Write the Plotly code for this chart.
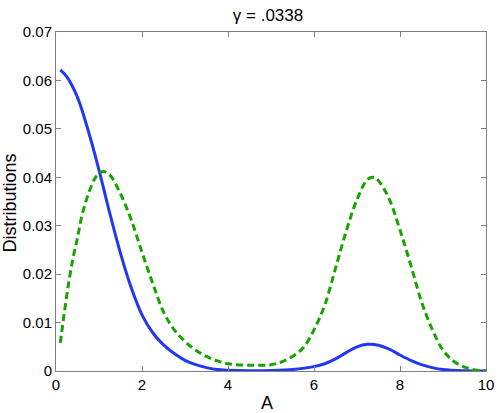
import plotly.graph_objects as go

# Blue solid distribution
blue_x = [0.1, 0.25, 0.5, 0.75, 1.0, 1.25, 1.5, 1.75, 2.0, 2.25, 2.5, 2.75, 3.0, 3.25, 3.5, 3.75,
          4.0, 4.5, 5.0, 5.5, 6.0, 6.25, 6.5, 6.75, 7.0, 7.25, 7.5, 7.75, 8.0, 8.25, 8.5, 8.75,
          9.0, 9.5, 10.0]
blue_y = [0.0622, 0.0608, 0.0565, 0.0496, 0.0415, 0.0326, 0.0243, 0.0172, 0.0116, 0.0079, 0.0054,
          0.0036, 0.0022, 0.0013, 0.0007, 0.0003, 0.00015, 0.00005, 0.0001, 0.0003, 0.0009, 0.0015,
          0.0025, 0.0038, 0.0050, 0.0055, 0.0053, 0.0045, 0.0033, 0.0022, 0.0013, 0.0007, 0.0003,
          0.00005, 0.0]

# Green dashed distribution
green_x = [0.1, 0.2, 0.3, 0.4, 0.5, 0.6, 0.75, 0.9, 1.0, 1.1, 1.25, 1.5, 1.75, 2.0, 2.25, 2.5,
           2.75, 3.0, 3.25, 3.5, 3.75, 4.0, 4.5, 5.0, 5.25, 5.5, 5.75, 6.0, 6.25, 6.5, 6.75, 7.0,
           7.25, 7.4, 7.5, 7.75, 8.0, 8.25, 8.5, 8.75, 9.0, 9.25, 9.5, 9.75, 10.0]
green_y = [0.0058, 0.0125, 0.0185, 0.0235, 0.0275, 0.0320, 0.0365, 0.0397, 0.0408, 0.0412, 0.0405,
           0.0366, 0.0312, 0.0245, 0.0181, 0.0122, 0.0085, 0.0061, 0.0043, 0.0030, 0.0021, 0.0015,
           0.0012, 0.0013, 0.0019, 0.0030, 0.0048, 0.0085, 0.0136, 0.0212, 0.0289, 0.0354, 0.0396,
           0.0400, 0.0393, 0.0355, 0.0291, 0.0219, 0.0143, 0.0086, 0.0043, 0.0020, 0.0008, 0.0002,
           0.0000]

x_ticks = [0, 2, 4, 6, 8, 10]
y_ticks = [0, 0.01, 0.02, 0.03, 0.04, 0.05, 0.06, 0.07]
y_tick_labels = ["0", "0.01", "0.02", "0.03", "0.04", "0.05", "0.06", "0.07"]
title_text = "γ = .0338"
x_label = "A"
y_label = "Distributions"

fig = go.Figure()
fig.add_trace(go.Scatter(x=blue_x, y=blue_y, mode="lines", line_shape="spline",
                         line=dict(color="#2338f5", width=3), showlegend=False))
fig.add_trace(go.Scatter(x=green_x, y=green_y, mode="lines", line_shape="spline",
                         line=dict(color="#17a300", width=3, dash="7px,4px"), showlegend=False))

fam = "Liberation Sans, Arial, sans-serif"
tick_font = dict(family=fam, size=15, color="black")
label_font = dict(family=fam, size=18, color="black")
title_font = dict(family=fam, size=17, color="black")
axis_common = dict(showline=True, linecolor="#7f7f7f", linewidth=1, mirror="ticks",
                   ticks="inside", ticklen=5, tickcolor="#7f7f7f", showgrid=False,
                   zeroline=False, tickfont=tick_font, automargin=False)

W, H = 498, 413
fig.update_layout(
    width=W, height=H,
    margin=dict(l=56, r=12, t=32, b=42),
    plot_bgcolor="white", paper_bgcolor="white",
    font=tick_font,
    title=dict(text=title_text, x=268 / W, xanchor="center", y=1 - 15 / H, yanchor="middle",
               yref="container", xref="container", font=title_font),
    xaxis=dict(range=[0, 10], tickvals=x_ticks, ticklabelstandoff=0, **axis_common),
    yaxis=dict(range=[0, 0.07], tickvals=y_ticks, ticktext=y_tick_labels, **axis_common),
    annotations=[
        dict(text=x_label, xref="paper", yref="paper", x=0.5, y=0, xshift=-4, yshift=-32,
             xanchor="center", yanchor="middle", showarrow=False, font=label_font),
        dict(text=y_label, xref="paper", yref="paper", x=0, y=0.5, xshift=-47, yshift=-2,
             xanchor="center", yanchor="middle", textangle=-90, showarrow=False,
             font=label_font),
    ],
)

fig.write_html("out.html", config={"displayModeBar": False},
               post_script="document.body.style.margin='0px';")
